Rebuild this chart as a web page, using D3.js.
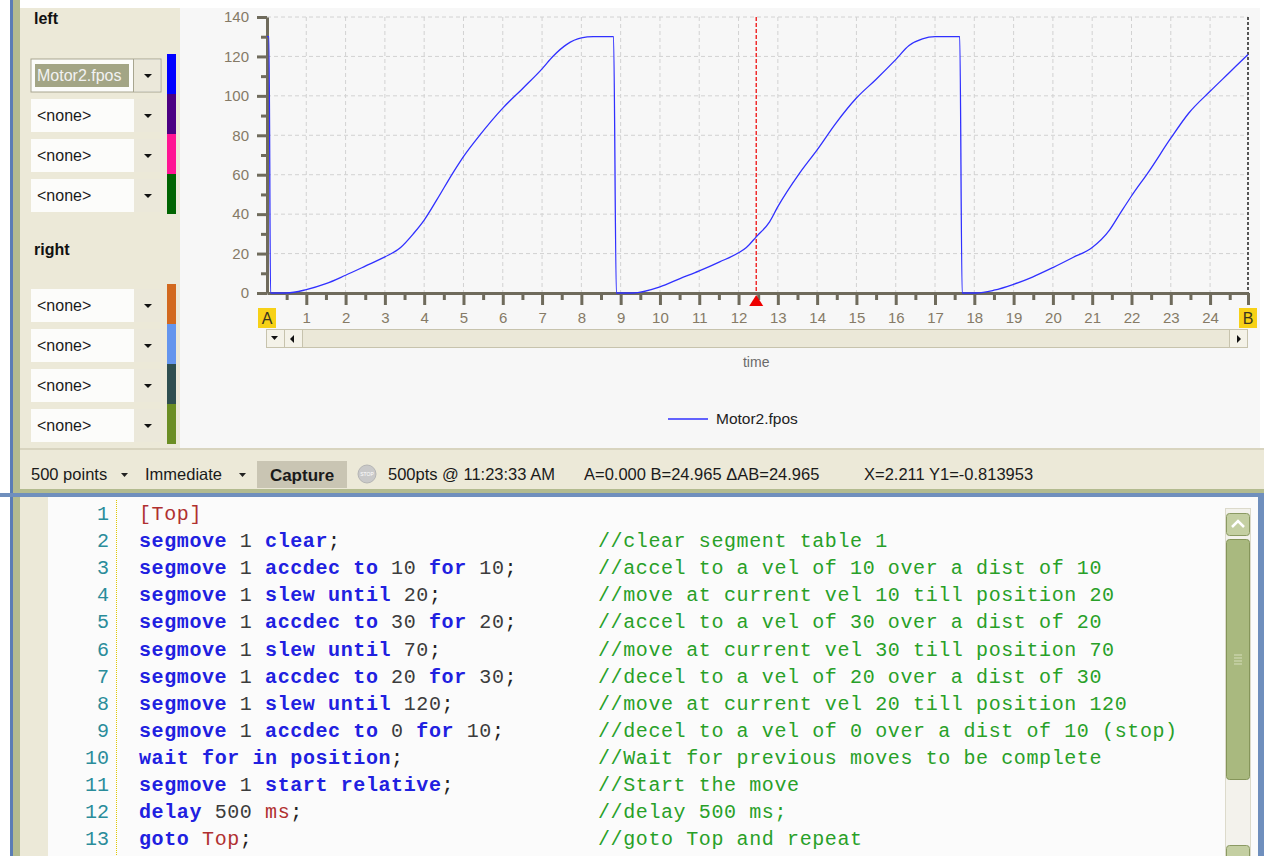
<!DOCTYPE html>
<html lang="en">
    <head>
        <meta charset="utf-8">
        <style type="text/css">
            body { margin: 0; background: #fff; }
            svg { display: block; }
            .ui { font-family: "Liberation Sans", Arial, sans-serif; }
            .mono { font-family: "Liberation Mono", "Courier New", monospace; }
            .grid line { stroke: #d2d2d2; stroke-dasharray: 4,3; stroke-width: 1; }
            .axis path, .axis line { stroke: #6f6b5c; stroke-width: 3; }
            .axis text { fill: #857a66; font-family: "Liberation Sans", Arial, sans-serif; font-size: 15px; }
        </style>
    </head>
    <body>
        <svg width="1264" height="856"></svg>

        <script src="https://cdn.jsdelivr.net/npm/d3@7"></script>
        <script>
            var times = [0, 0.05, 0.09, 0.5, 1.0, 1.5, 2.0, 2.5, 3.0, 3.4, 3.73, 4.0, 4.32, 4.74, 5.0, 5.42, 6.0, 6.52, 7.0, 7.28, 7.62, 8.0, 8.3, 8.82,
                         8.89, 9.31, 10.0, 10.51, 11.0, 11.52, 12.0, 12.2, 12.45, 12.79, 13.0, 13.55, 14.0, 14.48, 15.0, 15.49, 16.0, 16.34, 16.68, 17.0, 17.63,
                         17.69, 18.05, 18.5, 19.0, 19.48, 20.0, 20.51, 21.0, 21.44, 21.7, 22.0, 22.44, 23.0, 23.46, 24.0, 24.48, 24.965];
            var fpos  = [130, 130, 0, 0, 1.7, 4.7, 9.0, 13.6, 18.3, 23.1, 30.2, 37.0, 47.2, 61.2, 69.2, 80.2, 93.8, 104, 113.7, 120.1, 126.0, 129.4, 130, 130,
                         0, 0, 3.1, 7.3, 11.2, 15.8, 20.4, 23.1, 28.5, 36.1, 43.8, 60.7, 72.6, 86.2, 98.9, 108.2, 118.4, 125.5, 128.9, 130, 130,
                         0, 0, 1.4, 4.4, 8.1, 12.9, 18.0, 23.1, 31.9, 40.0, 49.2, 61.6, 78.5, 91.3, 102.3, 111.6, 121];
            var xTicks = d3.range(1, 25);
            var xMinor = d3.range(0.5, 25, 1);
            var yTicks = [0, 20, 40, 60, 80, 100, 120, 140];
            var yMinor = [10, 30, 50, 70, 90, 110, 130];
            var tA = 0, tB = 24.965, tCursor = 12.45;
            var seriesName = "Motor2.fpos";

            var leftChannels = ["Motor2.fpos", "<none>", "<none>", "<none>"];
            var leftColors = ["#0000ff", "#4b0082", "#ff1493", "#006400"];
            var rightChannels = ["<none>", "<none>", "<none>", "<none>"];
            var rightColors = ["#d2691e", "#6495ed", "#2f4f4f", "#6b8e23"];

            var codeLines = [
                "[Top]",
                "segmove 1 clear;",
                "segmove 1 accdec to 10 for 10;",
                "segmove 1 slew until 20;",
                "segmove 1 accdec to 30 for 20;",
                "segmove 1 slew until 70;",
                "segmove 1 accdec to 20 for 30;",
                "segmove 1 slew until 120;",
                "segmove 1 accdec to 0 for 10;",
                "wait for in position;",
                "segmove 1 start relative;",
                "delay 500 ms;",
                "goto Top;"
            ];
            var codeComments = [
                "",
                "//clear segment table 1",
                "//accel to a vel of 10 over a dist of 10",
                "//move at current vel 10 till position 20",
                "//accel to a vel of 30 over a dist of 20",
                "//move at current vel 30 till position 70",
                "//decel to a vel of 20 over a dist of 30",
                "//move at current vel 20 till position 120",
                "//decel to a vel of 0 over a dist of 10 (stop)",
                "//Wait for previous moves to be complete",
                "//Start the move",
                "//delay 500 ms;",
                "//goto Top and repeat"
            ];
            var keywords = ["segmove", "clear", "accdec", "to", "for", "slew", "until", "wait", "in",
                            "position", "start", "relative", "delay", "goto"];

            var svg = d3.select("svg");
            var beige = "#ece9d8";

            // ---- window frame ----
            svg.append("rect").attr("x", 0).attr("y", 0).attr("width", 1264).attr("height", 856).attr("fill", "#ffffff");
            svg.append("rect").attr("x", 10).attr("y", 0).attr("width", 3).attr("height", 856).attr("fill", "#5a7db5");
            svg.append("rect").attr("x", 13).attr("y", 0).attr("width", 7).attr("height", 856).attr("fill", "#b3bb8f");

            // ---- left channel panel ----
            svg.append("rect").attr("x", 20).attr("y", 8).attr("width", 160).attr("height", 440).attr("fill", beige);

            function channelGroup(title, titleY, names, colors, boxTop, barTop) {
                svg.append("text").attr("class", "ui").attr("x", 34).attr("y", titleY)
                    .attr("font-size", 16).attr("font-weight", "bold").attr("fill", "#111").text(title);

                names.forEach(function (name, i) {
                    var y0 = boxTop + i * 40;
                    var g = svg.append("g");
                    var selected = name !== "<none>";
                    g.append("rect").attr("x", 31).attr("y", y0).attr("width", 130).attr("height", 33)
                        .attr("fill", "#fcfcfa")
                        .attr("stroke", selected ? "#a8a690" : "none");
                    g.append("rect").attr("x", 134).attr("y", y0 + (selected ? 1 : 0)).attr("width", selected ? 26 : 27)
                        .attr("height", selected ? 31 : 33).attr("fill", "#ebe8da");
                    if (selected) {
                        g.append("line").attr("x1", 133.5).attr("x2", 133.5).attr("y1", y0).attr("y2", y0 + 33).attr("stroke", "#a8a690");
                        g.append("rect").attr("x", 35).attr("y", y0 + 5).attr("width", 94).attr("height", 23).attr("fill", "#a3a585");
                    }
                    g.append("text").attr("class", "ui").attr("x", 37).attr("y", y0 + 22)
                        .attr("font-size", 16).attr("fill", selected ? "#f2f2f2" : "#1a1a1a").text(name);
                    g.append("path").attr("d", "M" + 144 + "," + (y0 + 15) + " l8,0 l-4,4 z").attr("fill", "#111");

                    svg.append("rect").attr("x", 167).attr("y", barTop + i * 40).attr("width", 9).attr("height", 40)
                        .attr("fill", colors[i]);
                });
            }
            channelGroup("left", 24, leftChannels, leftColors, 59, 54);
            channelGroup("right", 255, rightChannels, rightColors, 289, 284);

            // ---- chart panel ----
            svg.append("rect").attr("x", 180).attr("y", 8).attr("width", 1080).attr("height", 440).attr("fill", "#f7f7f7");

            var x = d3.scaleLinear().domain([tA, tB]).range([267, 1248]);
            var y = d3.scaleLinear().domain([0, 140]).range([293, 17]);

            var grid = svg.append("g").attr("class", "grid");
            grid.selectAll(".gx").data(xTicks).enter().append("line")
                .attr("x1", function (d) { return x(d); }).attr("x2", function (d) { return x(d); })
                .attr("y1", y(140)).attr("y2", y(0));
            grid.selectAll(".gy").data(yTicks.slice(1)).enter().append("line")
                .attr("x1", x(0)).attr("x2", x(tB))
                .attr("y1", function (d) { return y(d); }).attr("y2", function (d) { return y(d); });

            // B cursor (black dashed) and movable cursor (red dashed)
            svg.append("line").attr("x1", x(tB)).attr("x2", x(tB)).attr("y1", y(140)).attr("y2", y(0))
                .attr("stroke", "#222").attr("stroke-width", 1.5).attr("stroke-dasharray", "3,2");
            svg.append("line").attr("x1", x(tCursor)).attr("x2", x(tCursor)).attr("y1", y(140)).attr("y2", y(0))
                .attr("stroke", "#ee1111").attr("stroke-width", 1.3).attr("stroke-dasharray", "4,2");

            // minor ticks
            svg.append("g").attr("class", "axis").attr("transform", "translate(" + x(0) + ",0)")
                .call(d3.axisLeft(y).tickValues(yMinor).tickSize(6).tickSizeOuter(0).tickFormat(""))
                .select(".domain").remove();
            svg.append("g").attr("class", "axis").attr("transform", "translate(0," + y(0) + ")")
                .call(d3.axisBottom(x).tickValues(xMinor).tickSize(7).tickSizeOuter(0).tickFormat(""))
                .select(".domain").remove();

            // major axes
            svg.append("g").attr("class", "axis").attr("transform", "translate(" + x(0) + ",0)")
                .call(d3.axisLeft(y).tickValues(yTicks).tickSize(10).tickSizeOuter(0).tickPadding(8));
            svg.append("g").attr("class", "axis").attr("transform", "translate(0," + y(0) + ")")
                .call(d3.axisBottom(x).tickValues(xTicks.concat([tB])).tickSize(12).tickSizeOuter(0).tickPadding(7)
                    .tickFormat(function (d) { return d === tB ? "" : d; }));

            // data line
            var pts = times.map(function (t, i) { return [t, fpos[i]]; });
            svg.append("path").datum(pts)
                .attr("fill", "none").attr("stroke", "#3030ff").attr("stroke-width", 1.3)
                .attr("stroke-linejoin", "round")
                .attr("d", d3.line().curve(d3.curveMonotoneX)
                    .x(function (d) { return x(d[0]); }).y(function (d) { return y(d[1]); }));

            // cursor triangle
            svg.append("path")
                .attr("d", "M" + x(tCursor) + "," + (y(0) + 2) + " l7,11 l-14,0 z").attr("fill", "#ee0000");

            // A / B markers
            [["A", tA], ["B", tB]].forEach(function (m) {
                svg.append("rect").attr("x", x(m[1]) - 9).attr("y", 308).attr("width", 18).attr("height", 20).attr("fill", "#f7d117");
                svg.append("text").attr("class", "ui").attr("x", x(m[1])).attr("y", 324).attr("text-anchor", "middle")
                    .attr("font-size", 16).attr("fill", "#3a3520").text(m[0]);
            });

            // horizontal scroll bar under the axis
            var sb = svg.append("g");
            sb.append("rect").attr("x", 266.5).attr("y", 329.5).attr("width", 981).attr("height", 18)
                .attr("fill", "#ebe8d8").attr("stroke", "#c7c3ad");
            [[266.5, "M271,336 l7,0 l-3.5,4 z"], [284.5, "M294,335 l0,8 l-4,-4 z"], [1229.5, "M1237,335 l0,8 l4,-4 z"]].forEach(function (b) {
                sb.append("rect").attr("x", b[0]).attr("y", 329.5).attr("width", 18).attr("height", 18)
                    .attr("fill", "#f4f2e8").attr("stroke", "#c7c3ad");
                sb.append("path").attr("d", b[1]).attr("fill", "#111");
            });

            svg.append("text").attr("class", "ui").attr("x", x(tCursor)).attr("y", 367).attr("text-anchor", "middle")
                .attr("font-size", 14).attr("fill", "#6a6a6a").text("time");

            // legend
            svg.append("line").attr("x1", 668).attr("x2", 708).attr("y1", 419).attr("y2", 419)
                .attr("stroke", "#3030ff").attr("stroke-width", 1.6);
            svg.append("text").attr("class", "ui").attr("x", 716).attr("y", 424)
                .attr("font-size", 15.5).attr("fill", "#222").text(seriesName);

            // ---- status bar ----
            svg.append("rect").attr("x", 20).attr("y", 448).attr("width", 1244).attr("height", 47).attr("fill", beige);
            svg.append("rect").attr("x", 20).attr("y", 448).attr("width", 1244).attr("height", 2).attr("fill", "#d8d4bf");
            svg.append("rect").attr("x", 20).attr("y", 489).attr("width", 1244).attr("height", 4).attr("fill", "#b3bb8f");
            svg.append("rect").attr("x", 0).attr("y", 493).attr("width", 1264).attr("height", 4).attr("fill", "#6f8fbd");

            var statusBar = svg.append("g").attr("class", "ui").attr("font-size", 16.5).attr("fill", "#1a1a1a");
            statusBar.append("text").attr("x", 31).attr("y", 480).text("500 points");
            statusBar.append("path").attr("d", "M121,473 l7,0 l-3.5,4 z").attr("fill", "#222");
            statusBar.append("text").attr("x", 145).attr("y", 480).text("Immediate");
            statusBar.append("path").attr("d", "M239,473 l7,0 l-3.5,4 z").attr("fill", "#222");
            statusBar.append("rect").attr("x", 257).attr("y", 461).attr("width", 90).attr("height", 27).attr("fill", "#c9c5b3");
            statusBar.append("text").attr("x", 302).attr("y", 481).attr("text-anchor", "middle")
                .attr("font-weight", "bold").attr("font-size", 17).text("Capture");
            statusBar.append("circle").attr("cx", 367).attr("cy", 474).attr("r", 9).attr("fill", "#c9c9c9").attr("stroke", "#b5b5b5");
            statusBar.append("text").attr("x", 367).attr("y", 476).attr("text-anchor", "middle")
                .attr("font-size", 5).attr("fill", "#fff").text("STOP");
            statusBar.append("text").attr("x", 388).attr("y", 480).text("500pts @ 11:23:33 AM");
            statusBar.append("text").attr("x", 584).attr("y", 480).text("A=0.000 B=24.965 \u0394AB=24.965");
            statusBar.append("text").attr("x", 864).attr("y", 480).text("X=2.211 Y1=-0.813953");

            // ---- code editor ----
            svg.append("rect").attr("x", 20).attr("y", 497).attr("width", 1238).attr("height", 359).attr("fill", "#fbfbfb");
            svg.append("rect").attr("x", 20).attr("y", 497).attr("width", 28).attr("height", 359).attr("fill", beige);
            svg.append("rect").attr("x", 1258).attr("y", 497).attr("width", 6).attr("height", 359).attr("fill", "#6f8fbd");
            svg.append("line").attr("x1", 116.5).attr("x2", 116.5).attr("y1", 500).attr("y2", 856)
                .attr("stroke", "#e0c800").attr("stroke-width", 1).attr("stroke-dasharray", "1,1");

            var lineY = function (i) { return 520 + i * 27.1; };
            var code = svg.append("g").attr("class", "mono").attr("font-size", 20);

            codeLines.forEach(function (line, i) {
                code.append("text").attr("x", 109).attr("y", lineY(i)).attr("text-anchor", "end")
                    .attr("fill", "#2a8c9a").text(i + 1);

                var t = code.append("text").attr("x", 139).attr("y", lineY(i))
                    .attr("xml:space", "preserve").style("white-space", "pre").attr("letter-spacing", 0.6);
                var tokens = line.match(/\[Top\]|\s+|[A-Za-z]+|\d+|[^\sA-Za-z\d]+/g);
                tokens.forEach(function (tok) {
                    var s = t.append("tspan").text(tok);
                    if (keywords.indexOf(tok) >= 0) s.attr("fill", "#2020e0").attr("font-weight", "bold");
                    else if (/^\d+$/.test(tok)) s.attr("fill", "#3c3c3c");
                    else if (tok === "[Top]" || tok === "Top" || tok === "ms") s.attr("fill", "#b03030");
                    else s.attr("fill", "#222");
                });

                if (codeComments[i]) {
                    code.append("text").attr("x", 598).attr("y", lineY(i))
                        .attr("xml:space", "preserve").style("white-space", "pre").attr("letter-spacing", 0.6)
                        .attr("fill", "#28a028").text(codeComments[i]);
                }
            });

            // vertical scroll bar of the editor
            var vs = svg.append("g");
            vs.append("rect").attr("x", 1225.5).attr("y", 508.5).attr("width", 25).attr("height", 347).attr("fill", "#f3f2ec").attr("stroke", "#dcdacb");
            vs.append("rect").attr("x", 1226.5).attr("y", 513.5).attr("width", 23).attr("height", 22).attr("rx", 3)
                .attr("fill", "#c4cfa2").attr("stroke", "#8b9a63");
            vs.append("path").attr("d", "M1232,527 l6,-6 l6,6").attr("fill", "none").attr("stroke", "#fff").attr("stroke-width", 2.5);
            vs.append("rect").attr("x", 1226.5).attr("y", 539.5).attr("width", 23).attr("height", 240).attr("rx", 3)
                .attr("fill", "#a9b97f").attr("stroke", "#85955a");
            [655, 658, 661, 664].forEach(function (gy) {
                vs.append("line").attr("x1", 1234).attr("x2", 1242).attr("y1", gy).attr("y2", gy).attr("stroke", "#d6debc");
            });
            vs.append("rect").attr("x", 1226.5).attr("y", 845.5).attr("width", 23).attr("height", 14).attr("rx", 3)
                .attr("fill", "#c4cfa2").attr("stroke", "#8b9a63");
        </script>
    </body>
</html>
